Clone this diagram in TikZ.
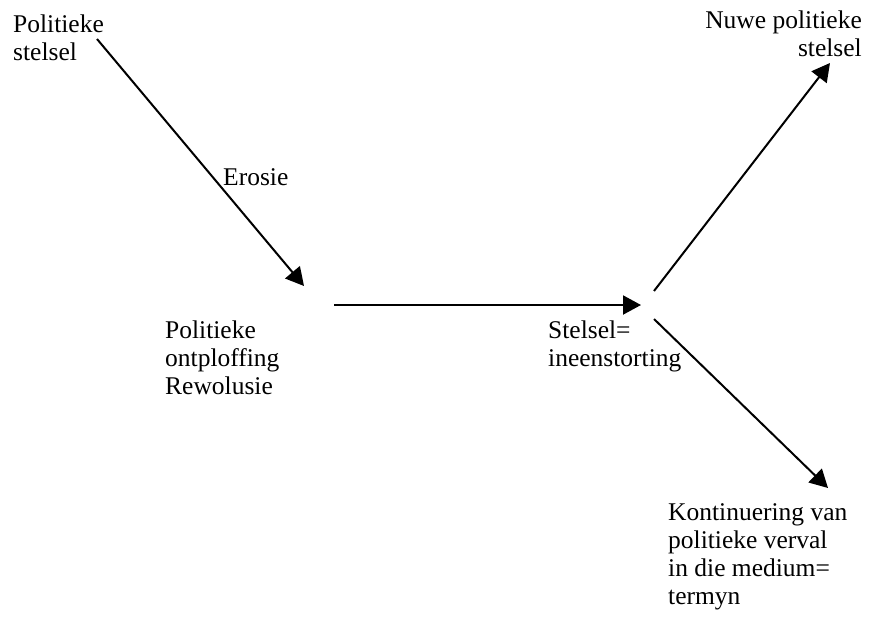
\documentclass[tikz,border=0pt]{standalone}
\usepackage{fontspec}
\setmainfont{Liberation Serif}
\usetikzlibrary{arrows.meta}

\begin{document}
\begin{tikzpicture}[
        x=1pt, y=-1pt,
        txt/.style={inner sep=0pt, anchor=base west, align=left, font=\fontsize{25.5pt}{28pt}\selectfont},
        arr/.style={-{Triangle[length=18pt, width=19pt]}, line width=2pt, black},
    ]
        \useasboundingbox (0,0) rectangle (869,624);

        % Labels (placed at the baseline of their last line)
        \node[txt] (old) at (13,60) {Politieke\\stelsel};
        \node[txt] (erosie) at (223,185) {Erosie};
        \node[txt] (rev) at (165,394) {Politieke\\ontploffing\\Rewolusie};
        \node[txt] (collapse) at (548,366) {Stelsel=\\ineenstorting};
        \node[txt, align=right, anchor=base east] (new) at (862,56) {Nuwe politieke\\stelsel\hspace{14pt}};
        \node[txt] (decay) at (668,604) {Kontinuering van\\politieke verval\\in die medium=\\termyn};

        % Arrow ends
        \coordinate (oldend) at (97,39);
        \coordinate (revtip) at (304,286);
        \coordinate (revend) at (334,305);
        \coordinate (fork) at (641,305);
        \coordinate (upstart) at (654,291);
        \coordinate (newtip) at (830,63);
        \coordinate (downstart) at (654,319);
        \coordinate (decaytip) at (828,488);

        % Arrows
        \draw[arr] (oldend) -- (revtip);
        \draw[arr] (revend) -- (fork);
        \draw[arr] (upstart) -- (newtip);
        \draw[arr] (downstart) -- (decaytip);

    \end{tikzpicture}
\end{document}
